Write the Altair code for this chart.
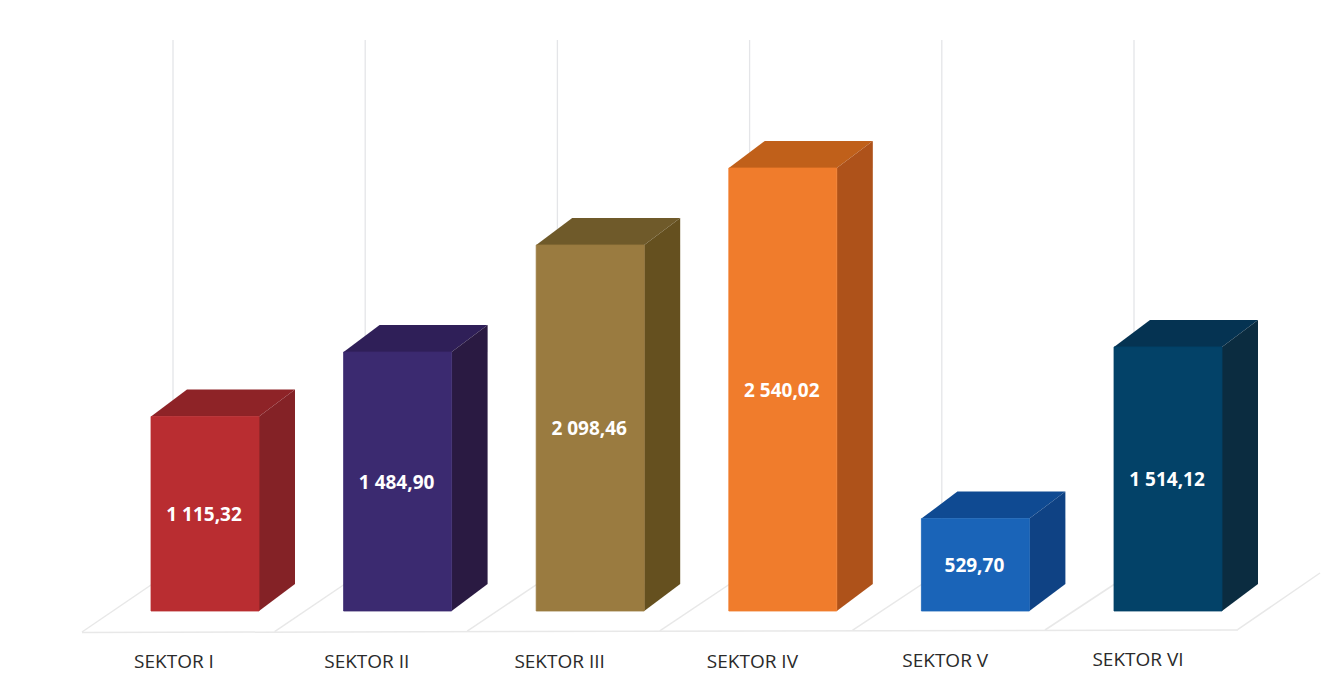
import altair as alt
import pandas as pd

categories = ["SEKTOR I", "SEKTOR II", "SEKTOR III", "SEKTOR IV", "SEKTOR V", "SEKTOR VI"]
values = [1115.32, 1484.90, 2098.46, 2540.02, 529.70, 1514.12]
value_labels = ["1 115,32", "1 484,90", "2 098,46", "2 540,02", "529,70", "1 514,12"]
front_colors = ["#b92d31", "#3b2a70", "#9a7b40", "#f07c2c", "#1a64b8", "#034268"]
side_colors = ["#842226", "#2a1a42", "#65501f", "#ae521a", "#0f4284", "#0b2c40"]
top_colors = ["#8e2327", "#2f1f58", "#6f5a2a", "#c0601a", "#0f4a92", "#053352"]

# Layout: one slot is the distance between neighbouring bars
PX_PER_SLOT = 192.6
PX_PER_UNIT = 0.1744
W, H = 1314, 679
X0, Y0 = 205 - 8, 611 - 8  # slot 0 and value 0, in plot pixels
HALF = 54 / PX_PER_SLOT
DX = 36 / PX_PER_SLOT
DY = 27 / PX_PER_UNIT


def vy(page_y):
    return (611 - page_y) / PX_PER_UNIT


def sx(page_x):
    return (page_x - 205) / PX_PER_SLOT


x_scale = alt.Scale(domain=[-X0 / PX_PER_SLOT, (W - X0) / PX_PER_SLOT], nice=False, zero=False)
y_scale = alt.Scale(domain=[-(H - Y0) / PX_PER_UNIT, Y0 / PX_PER_UNIT], nice=False, zero=False)
X = lambda f: alt.X(f, type="quantitative", scale=x_scale, axis=None)
Y = lambda f: alt.Y(f, type="quantitative", scale=y_scale, axis=None, stack=None)

front, side, top, grid, floor, text, names = [], [], [], [], [], [], []
label_pos_y = [662, 662, 662, 662, 661, 660]
for i, (c, v) in enumerate(zip(categories, values)):
    l, r = i - HALF, i + HALF
    front.append(dict(c=c, x=l, x2=r, y=0, y2=v, fill=front_colors[i]))
    side += [
        dict(c=c, x=r, y=0, y2=v, fill=side_colors[i]),
        dict(c=c, x=r + DX, y=DY, y2=v + DY, fill=side_colors[i]),
    ]
    top += [
        dict(c=c, x=l, y=v, y2=v, fill=top_colors[i]),
        dict(c=c, x=l + DX, y=v, y2=v + DY, fill=top_colors[i]),
        dict(c=c, x=r, y=v, y2=v + DY, fill=top_colors[i]),
        dict(c=c, x=r + DX, y=v + DY, y2=v + DY, fill=top_colors[i]),
    ]
    grid.append(dict(x=sx(173 + 192.2 * i), y=vy(570), y2=vy(40)))
    text.append(dict(x=i - 1 / PX_PER_SLOT, y=v / 2, t=value_labels[i]))
    names.append(dict(x=sx(174 + 192.8 * i), y=vy(label_pos_y[i]), t=c))

for i in range(7):
    end_x = 173 + PX_PER_SLOT * i if i < 6 else 1320
    end_y = 570 if i < 6 else 573
    floor.append(dict(g=i, x=sx(82 + PX_PER_SLOT * i), y=vy(632 - 0.4 * i), o=0))
    floor.append(dict(g=i, x=sx(end_x), y=vy(end_y), o=1))
front_edge = [dict(g=9, x=sx(82), y=vy(632.5), o=0), dict(g=9, x=sx(1238), y=vy(630), o=1)]

grid_layer = alt.Chart(pd.DataFrame(grid)).mark_rule(color="#e4e5e8", strokeWidth=1.3).encode(
    x=X("x"), y=Y("y"), y2="y2")
floor_layer = alt.Chart(pd.DataFrame(floor + front_edge)).mark_line(color="#e8e8e8", strokeWidth=1.5).encode(
    x=X("x"), y=Y("y"), detail="g:N", order="o:Q")
top_layer = alt.Chart(pd.DataFrame(top)).mark_area(interpolate="linear", orient="vertical", strokeWidth=0.8).encode(
    x=X("x"), y=Y("y"), y2="y2", fill=alt.Fill("fill:N", scale=None), detail="c:N")
side_layer = alt.Chart(pd.DataFrame(side)).mark_area(interpolate="linear", orient="vertical").encode(
    x=X("x"), y=Y("y"), y2="y2", fill=alt.Fill("fill:N", scale=None), detail="c:N")
front_layer = alt.Chart(pd.DataFrame(front)).mark_rect(strokeWidth=0.8).encode(
    x=X("x"), x2="x2", y=Y("y"), y2="y2",
    fill=alt.Fill("fill:N", scale=None), stroke=alt.Stroke("fill:N", scale=None))
value_layer = alt.Chart(pd.DataFrame(text)).mark_text(
    color="white", font="Open Sans", fontWeight="bold", fontSize=19, align="center", baseline="middle", dy=1
).encode(x=X("x"), y=Y("y"), text="t:N")
name_layer = alt.Chart(pd.DataFrame(names)).mark_text(
    color="#2a2a2a", font="Open Sans", fontSize=19, align="center", baseline="middle"
).encode(x=X("x"), y=Y("y"), text="t:N")

chart = alt.layer(
    grid_layer, floor_layer, top_layer, side_layer, front_layer, value_layer, name_layer
).properties(
    width=W, height=H, padding=0, background="white", autosize=alt.AutoSizeParams(type="none")
).configure_view(stroke=None)

chart.save("out.html", embed_options={"renderer": "svg", "actions": False})
